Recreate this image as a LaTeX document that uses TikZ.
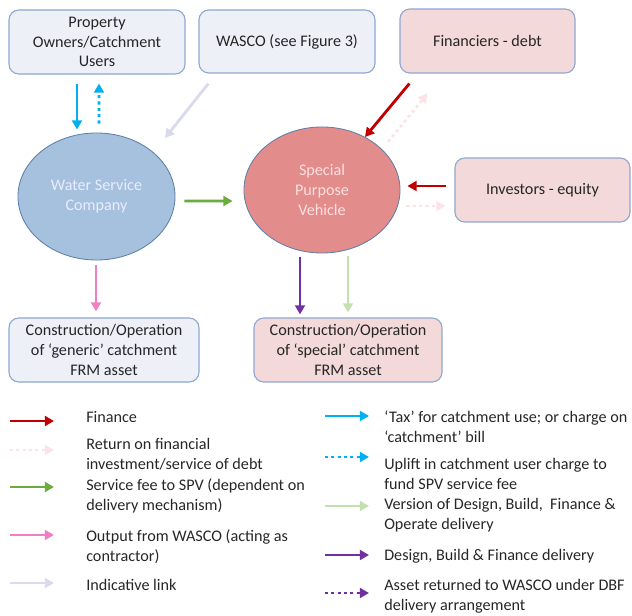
\documentclass[tikz,border=0pt]{standalone}
\usepackage{fontspec}
\setmainfont{Carlito}
\usetikzlibrary{shapes.geometric,arrows.meta,calc}

\definecolor{boxblue}{HTML}{EEF0F8}
\definecolor{boxpink}{HTML}{F3D9D9}
\definecolor{edgeblue}{HTML}{8EA9CF}
\definecolor{wscfill}{HTML}{A5C1DE}
\definecolor{spvfill}{HTML}{E38C8C}
\definecolor{ellipseedge}{HTML}{5E7FA6}
\definecolor{finred}{HTML}{C00000}
\definecolor{returnpink}{HTML}{FBE3E8}
\definecolor{feegreen}{HTML}{6CAB3F}
\definecolor{outpink}{HTML}{F07FC6}
\definecolor{linklav}{HTML}{D9DAEE}
\definecolor{taxblue}{HTML}{00B0F0}
\definecolor{dbfogreen}{HTML}{C3E0B0}
\definecolor{dbfpurple}{HTML}{7030A0}

\begin{document}
\begin{tikzpicture}[x=0.025cm, y=-0.025cm,
    every node/.style={font=\fontsize{11.5}{14.1}\selectfont, text=black!85},
    party/.style={draw=edgeblue, line width=0.8pt, rounded corners=7pt,
        align=center, inner sep=0pt, minimum height=1.6cm},
    bluebox/.style={party, fill=boxblue},
    pinkbox/.style={party, fill=boxpink},
    org/.style={ellipse, draw=ellipseedge, line width=0.6pt, align=center,
        minimum width=3.925cm, minimum height=3.175cm, inner sep=0pt},
    flow/.style={line width=2pt, -{Triangle[length=6.5pt,width=7pt]}},
    dots/.style={flow, dash pattern=on 2.2pt off 2.3pt},
    finflow/.style={flow, finred},
    retflow/.style={dots, returnpink},
    feeflow/.style={flow, feegreen},
    outflow/.style={flow, outpink},
    linkflow/.style={flow, linklav},
    taxflow/.style={flow, taxblue},
    upflow/.style={dots, taxblue},
    dbfoflow/.style={flow, dbfogreen},
    dbfflow/.style={flow, dbfpurple},
    backflow/.style={dots, dbfpurple},
    ]

    \useasboundingbox (0,0) rectangle (632,616);

    \node[bluebox, minimum width=4.4cm] (own) at (97,42)
        {Property\\Owners/Catchment\\Users};
    \node[bluebox, minimum width=4.4cm, minimum height=1.575cm] (wasco) at (287,41.5)
        {WASCO (see Figure 3)};
    \node[pinkbox, minimum width=4.375cm] (fin) at (487.5,41) {Financiers - debt};
    \node[pinkbox, minimum width=4.375cm] (inv) at (542.5,190) {Investors - equity};

    \node[org, fill=wscfill, text=white!92!blue] (wsc) at (96.5,196.5)
        {Water Service\\Company};
    \node[org, fill=spvfill, minimum width=3.9cm, minimum height=3.15cm,
        text=white!88!red] (spv) at (322,190) {Special\\Purpose\\Vehicle};

    \node[bluebox, minimum width=4.75cm] (gen) at (104,350)
        {Construction/Operation\\of ‘generic’ catchment\\FRM asset};
    \node[pinkbox, minimum width=4.7cm] (spec) at (348,350)
        {Construction/Operation\\of ‘special’ catchment\\FRM asset};

    \draw[taxflow] ($(own.south)+(-20,9)$) -- ($(wsc.north)+(-19.5,-3)$);
    \draw[upflow] ($(wsc.north)+(2.5,-9)$) -- ($(own.south)+(2,9)$);
    \draw[linkflow] ($(wasco.south west)+(10,10)$) -- ($(wsc.center)+(68.5,-58.5)$);
    \draw[feeflow] ($(wsc.east)+(9,4.5)$) -- ($(spv.west)+(-11,11)$);
    \draw[finflow] ($(fin.south west)+(10,10)$) -- ($(spv.center)+(43,-53)$);
    \draw[retflow] ($(spv.center)+(66,-48)$) -- ($(fin.south west)+(28,20)$);
    \draw[finflow] ($(inv.west)+(-8,-4)$) -- ($(spv.east)+(7,-4)$);
    \draw[retflow] ($(spv.east)+(6,16)$) -- ($(inv.west)+(-9,16)$);
    \draw[outflow] ($(wsc.south)+(-0.5,5)$) -- ($(gen.north)+(-8,-6)$);
    \draw[dbfflow] ($(spv.south)+(-22,4)$) -- ($(spec.north)+(-48,-3)$);
    \draw[dbfoflow] ($(spv.south)+(26,3)$) -- ($(spec.north)+(0,-5)$);

    \foreach \ax/\tx/\ay/\ty/\sty/\txt [count=\i] in {
        10/86/421/417/finflow/{Finance},
        10/86/450/464/retflow/{Return on financial\\investment/service of debt},
        10/86/487/505/feeflow/{Service fee to SPV (dependent on\\delivery mechanism)},
        10/86/535/556/outflow/{Output from WASCO (acting as\\contractor)},
        10/86/583/585/linkflow/{Indicative link},
        325/384/416/437/taxflow/{‘Tax’ for catchment use; or charge on\\‘catchment’ bill},
        325/384/457/484/upflow/{Uplift in catchment user charge to\\fund SPV service fee},
        325/384/506/524/dbfoflow/{Version of Design, Build,~ Finance \&\\Operate delivery},
        325/384/555/555/dbfflow/{Design, Build \& Finance delivery},
        325/384/593/605/backflow/{Asset returned to WASCO under DBF\\delivery arrangement}}{
    \coordinate (key\i) at (\ax,\ay);
    \draw[\sty] (key\i) -- ++(44,0);
    \node[anchor=base west, align=left, inner sep=0pt] (leg\i) at (\tx,\ty+5.5) {\txt};
    }

\end{tikzpicture}
\end{document}
